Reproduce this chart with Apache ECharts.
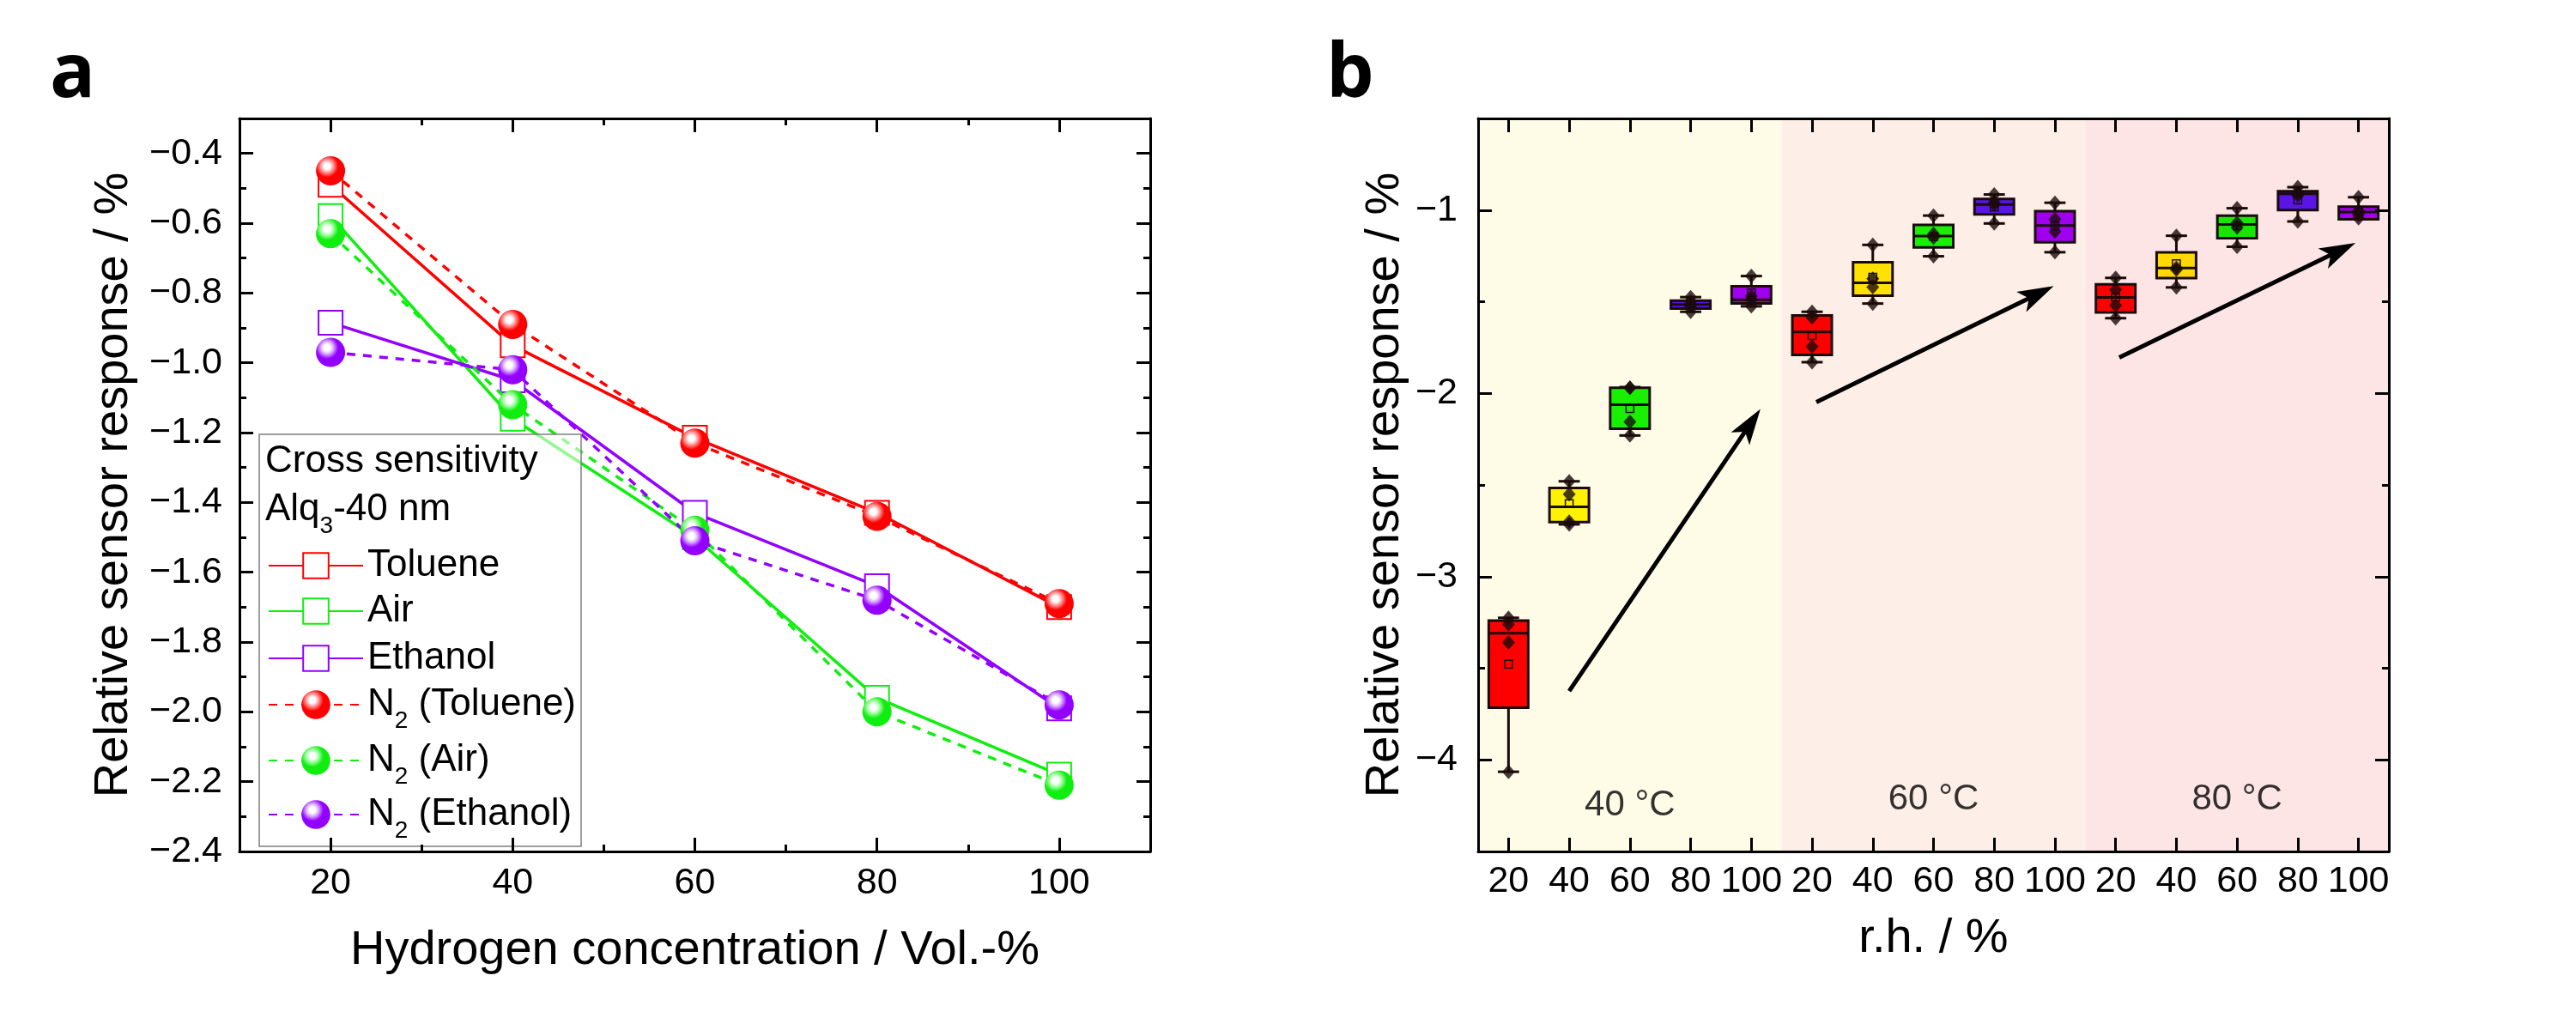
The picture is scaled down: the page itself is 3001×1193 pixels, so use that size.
<!DOCTYPE html>
<html><head><meta charset="utf-8">
<script src="https://cdn.jsdelivr.net/npm/echarts@6/dist/echarts.min.js"></script>
<style>html,body{margin:0;padding:0;background:#fff}#c{width:3001px;height:1193px}</style>
</head><body><div id="c"></div>
<script>
// ---------- Panel a data ----------
const concentration = [20, 40, 60, 80, 100];
const toluene   = [-0.49, -0.95, -1.215, -1.43, -1.70];
const air       = [-0.58, -1.16, -1.50, -1.96, -2.18];
const ethanol   = [-0.885, -1.05, -1.43, -1.64, -1.99];
const n2Toluene = [-0.45, -0.89, -1.23, -1.44, -1.69];
const n2Air     = [-0.63, -1.12, -1.48, -2.00, -2.21];
const n2Ethanol = [-0.97, -1.02, -1.51, -1.68, -1.98];
const xTicksA = [20, 40, 60, 80, 100];
const xMinorA = [30, 50, 70, 90];
const yTicksA = [-2.4, -2.2, -2.0, -1.8, -1.6, -1.4, -1.2, -1.0, -0.8, -0.6, -0.4];
const yMinorA = [-2.3, -2.1, -1.9, -1.7, -1.5, -1.3, -1.1, -0.9, -0.7, -0.5];
const legendNames = ['Toluene', 'Air', 'Ethanol', 'N2 (Toluene)', 'N2 (Air)', 'N2 (Ethanol)'];

// ---------- Panel b data ----------
const rhLabels = ['20','40','60','80','100','20','40','60','80','100','20','40','60','80','100'];
const xTicksB = [0,1,2,3,4,5,6,7,8,9,10,11,12,13,14];
const yTicksB = [-4, -3, -2, -1];
const yMinorB = [-3.5, -2.5, -1.5];
// [min, Q1, median, Q3, max, mean]
const boxStats = [
  [-4.065, -3.715, -3.309, -3.24, -3.225, -3.478],
  [-2.715, -2.702, -2.619, -2.516, -2.48, -2.602],
  [-2.23, -2.193, -2.062, -1.969, -1.966, -2.083],
  [-1.555, -1.537, -1.515, -1.494, -1.475, -1.512],
  [-1.525, -1.509, -1.49, -1.416, -1.36, -1.452],
  [-1.83, -1.79, -1.665, -1.575, -1.555, -1.685],
  [-1.51, -1.467, -1.397, -1.285, -1.19, -1.366],
  [-1.252, -1.204, -1.142, -1.081, -1.03, -1.145],
  [-1.073, -1.023, -0.969, -0.939, -0.915, -0.984],
  [-1.23, -1.176, -1.084, -1.006, -0.96, -1.085],
  [-1.59, -1.558, -1.477, -1.405, -1.37, -1.475],
  [-1.422, -1.371, -1.316, -1.231, -1.14, -1.293],
  [-1.2, -1.153, -1.079, -1.03, -0.99, -1.085],
  [-1.062, -1.0, -0.911, -0.897, -0.875, -0.945],
  [-1.05, -1.05, -1.011, -0.981, -0.93, -1.008]
];
const boxPoints = [
  [-3.225, -3.26, -3.36, -4.065],
  [-2.48, -2.55, -2.70, -2.715],
  [-1.97, -1.97, -2.156, -2.23],
  [-1.475, -1.50, -1.525, -1.555],
  [-1.36, -1.47, -1.49, -1.525],
  [-1.555, -1.585, -1.745, -1.83],
  [-1.19, -1.375, -1.42, -1.51],
  [-1.03, -1.13, -1.15, -1.252],
  [-0.915, -0.955, -0.97, -1.073],
  [-0.96, -1.05, -1.117, -1.23],
  [-1.37, -1.435, -1.52, -1.59],
  [-1.14, -1.315, -1.325, -1.422],
  [-0.99, -1.07, -1.095, -1.2],
  [-0.875, -0.905, -0.92, -1.062],
  [-0.93, -1.005, -1.025, -1.045]
];
const boxColors = ['#ff0000','#fff200','#19ef00','#5a14e6','#a000ee',
                   '#ff0000','#ffe100','#19ef00','#5a14e6','#a000ee',
                   '#ff0000','#ffd800','#19e600','#5a14e6','#a000ee'];
const tempBands = [[-0.5, 4.5, '#fefbe7'], [4.5, 9.5, '#fdefe7'], [9.5, 14.5, '#fde5e5']];
const tempLabels = [[2, -4.25, '40 °C'], [7, -4.217, '60 °C'], [12, -4.217, '80 °C']];
const arrows = [[1.0, -3.625, 4.15, -2.085], [5.07, -2.048, 8.98, -1.415], [10.06, -1.804, 13.95, -1.179]];

// ---------- helpers ----------
const FONT = "'Liberation Sans', Arial, sans-serif";
const minus = s => String(s).replace('-', '\u2212');

function mkAxis(o) {
  const ax = {
    type: 'value', gridIndex: o.grid, position: o.pos, min: o.min, max: o.max, z: 10,
    splitLine: {show: false},
    axisPointer: {show: false},
    axisLine: {show: !!o.line, onZero: false, lineStyle: {color: '#000', width: 3}},
    axisTick: {show: true, inside: true, length: o.len, lineStyle: {color: '#000', width: 3}, customValues: o.ticks},
    axisLabel: o.labels ? {show: true, customValues: o.ticks, formatter: o.fmt, fontSize: 43, fontFamily: FONT, color: '#000', margin: o.margin} : {show: false}
  };
  if (o.name) {
    ax.name = o.name; ax.nameLocation = 'middle'; ax.nameGap = o.nameGap;
    ax.nameTextStyle = {fontSize: 56, fontFamily: FONT, color: '#000'};
  }
  return ax;
}

function ballFill(c, light) {
  return {type: 'radial', x: 0.38, y: 0.34, r: 0.66, colorStops: [
    {offset: 0, color: '#ffffff'}, {offset: 0.16, color: '#ffffff'}, {offset: 0.32, color: light},
    {offset: 0.58, color: c}, {offset: 1, color: c}]};
}

function lineSeries(name, vals, color, light, ball) {
  return {
    name, type: 'line', xAxisIndex: 0, yAxisIndex: 0, silent: true,
    data: concentration.map((c, i) => [c, vals[i]]),
    symbol: ball ? 'circle' : 'emptyRect', symbolSize: ball ? 34 : 28,
    lineStyle: {color, width: 3.5, type: ball ? [10, 9] : 'solid'},
    itemStyle: ball ? {color: ballFill(color, light)} : {color, borderColor: color, borderWidth: 2.5},
    z: ball ? 3 : 2
  };
}

const richText = {
  m: {fontSize: 44, fontFamily: FONT, lineHeight: 44, color: '#000'},
  s: {fontSize: 28, fontFamily: FONT, lineHeight: 66, verticalAlign: 'bottom', color: '#000'}
};
// legend item centres (px)
const legendCentres = [654, 707, 762, 818, 883, 946];
function mkLegend(i) {
  const ball = i >= 3;
  const lg = {
    data: [legendNames[i]], orient: 'vertical', left: 307,
    top: legendCentres[i] - (ball ? 24 : 22),
    itemWidth: 110, itemHeight: ball ? 42 : 37, selectedMode: false, z: 6,
    textStyle: {fontSize: 44, fontFamily: FONT, color: '#000'}
  };
  if (ball) {
    lg.formatter = n => '{m|N}{s|2}{m|' + n.slice(2) + '}';
    lg.textStyle.rich = richText;
  }
  return lg;
}

const RED = '#ff0000', GRN = '#10ee10', PUR = '#9400ff';

const pointData = [];
boxPoints.forEach((pts, i) => pts.forEach(v => pointData.push([i, v])));

const option = {
  animation: false,
  backgroundColor: '#ffffff',
  grid: [
    {left: 279, top: 138, width: 1061, height: 854, show: false},
    {left: 1722, top: 138, width: 1061, height: 854, show: false}
  ],
  xAxis: [
    mkAxis({grid: 0, pos: 'bottom', min: 10, max: 110, line: true, len: 16, ticks: xTicksA, labels: true, fmt: v => v, margin: 16,
            name: 'Hydrogen concentration / Vol.-%', nameGap: 88}),
    mkAxis({grid: 0, pos: 'bottom', min: 10, max: 110, len: 8, ticks: xMinorA}),
    mkAxis({grid: 0, pos: 'top', min: 10, max: 110, line: true, len: 16, ticks: xTicksA}),
    mkAxis({grid: 0, pos: 'top', min: 10, max: 110, len: 8, ticks: xMinorA}),
    mkAxis({grid: 1, pos: 'bottom', min: -0.5, max: 14.5, line: true, len: 16, ticks: xTicksB, labels: true,
            fmt: v => rhLabels[Math.round(v)], margin: 14, name: 'r.h. / %', nameGap: 74}),
    mkAxis({grid: 1, pos: 'top', min: -0.5, max: 14.5, line: true, len: 16, ticks: xTicksB})
  ],
  yAxis: [
    mkAxis({grid: 0, pos: 'left', min: -2.4, max: -0.3, line: true, len: 16, ticks: yTicksA, labels: true,
            fmt: v => minus(v.toFixed(1)), margin: 20, name: 'Relative sensor response / %', nameGap: 118}),
    mkAxis({grid: 0, pos: 'left', min: -2.4, max: -0.3, len: 8, ticks: yMinorA}),
    mkAxis({grid: 0, pos: 'right', min: -2.4, max: -0.3, line: true, len: 16, ticks: yTicksA}),
    mkAxis({grid: 0, pos: 'right', min: -2.4, max: -0.3, len: 8, ticks: yMinorA}),
    mkAxis({grid: 1, pos: 'left', min: -4.5, max: -0.5, line: true, len: 16, ticks: yTicksB, labels: true,
            fmt: v => minus(v), margin: 24, name: 'Relative sensor response / %', nameGap: 80}),
    mkAxis({grid: 1, pos: 'left', min: -4.5, max: -0.5, len: 8, ticks: yMinorB}),
    mkAxis({grid: 1, pos: 'right', min: -4.5, max: -0.5, line: true, len: 16, ticks: yTicksB}),
    mkAxis({grid: 1, pos: 'right', min: -4.5, max: -0.5, len: 8, ticks: yMinorB})
  ],
  legend: [0, 1, 2, 3, 4, 5].map(mkLegend),
  graphic: [
    {type: 'rect', z: 4, silent: true, shape: {x: 302, y: 506, width: 375, height: 480},
     style: {fill: 'rgba(255,255,255,0.55)', stroke: '#7f7f7f', lineWidth: 1.5}},
    {type: 'text', z: 7, x: 309, y: 538, silent: true,
     style: {text: 'Cross sensitivity', font: '44px ' + FONT, fill: '#000', align: 'left', verticalAlign: 'middle'}},
    {type: 'text', z: 7, x: 309, y: 594, silent: true,
     style: {text: '{m|Alq}{s|3}{m|-40 nm}', align: 'left', verticalAlign: 'middle', fill: '#000', rich: richText}},
    {type: 'text', z: 7, x: 58, y: 88, silent: true,
     style: {text: 'a', font: 'bold 88px "Open Sans", ' + FONT, fill: '#000', align: 'left', verticalAlign: 'middle'}},
    {type: 'text', z: 7, x: 1545, y: 88, silent: true,
     style: {text: 'b', font: 'bold 88px "Open Sans", ' + FONT, fill: '#000', align: 'left', verticalAlign: 'middle'}}
  ],
  series: [
    lineSeries('Toluene', toluene, RED, '#ffa0a0', false),
    lineSeries('Air', air, GRN, '#a8ffa8', false),
    lineSeries('Ethanol', ethanol, PUR, '#dcb0ff', false),
    lineSeries('N2 (Toluene)', n2Toluene, RED, '#ffa0a0', true),
    lineSeries('N2 (Air)', n2Air, GRN, '#a8ffa8', true),
    lineSeries('N2 (Ethanol)', n2Ethanol, PUR, '#dcb0ff', true),
    {
      type: 'line', xAxisIndex: 4, yAxisIndex: 4, data: [], silent: true, z: 0,
      markArea: {silent: true, label: {show: false},
        data: tempBands.map(b => [{xAxis: b[0], itemStyle: {color: b[2]}}, {xAxis: b[1]}])}
    },
    {
      type: 'custom', xAxisIndex: 4, yAxisIndex: 4, silent: true, z: 2,
      data: boxStats.map((s, i) => [i].concat(s)),
      encode: {x: 0, y: [1, 2, 3, 4, 5]},
      renderItem: (params, api) => {
        const x = api.value(0);
        const c = v => api.coord([x, v]);
        const pMin = c(api.value(1)), pQ1 = c(api.value(2)), pMd = c(api.value(3)),
              pQ3 = c(api.value(4)), pMax = c(api.value(5)), pMean = c(api.value(6));
        const bw = api.size([0.65, 0])[0], cw = api.size([0.35, 0])[0];
        const cx = pMin[0];
        const K = '#1a0a0a';
        const ln = (x1, y1, x2, y2, w) => ({type: 'line', shape: {x1, y1, x2, y2}, style: {stroke: K, lineWidth: w || 3}});
        return {type: 'group', children: [
          ln(cx, pMax[1], cx, pQ3[1]), ln(cx - cw / 2, pMax[1], cx + cw / 2, pMax[1]),
          ln(cx, pQ1[1], cx, pMin[1]), ln(cx - cw / 2, pMin[1], cx + cw / 2, pMin[1]),
          {type: 'rect', shape: {x: cx - bw / 2, y: pQ3[1], width: bw, height: pQ1[1] - pQ3[1]},
           style: {fill: boxColors[params.dataIndex], stroke: K, lineWidth: 3}},
          ln(cx - bw / 2, pMd[1], cx + bw / 2, pMd[1]),
          {type: 'rect', shape: {x: cx - 4.5, y: pMean[1] - 4.5, width: 9, height: 9},
           style: {fill: 'none', stroke: K, lineWidth: 1.5}}
        ]};
      }
    },
    {
      type: 'scatter', xAxisIndex: 4, yAxisIndex: 4, silent: true, z: 3,
      data: pointData, symbol: 'diamond', symbolSize: [15, 17], itemStyle: {color: '#1a0a0a'}
    },
    {
      type: 'custom', xAxisIndex: 4, yAxisIndex: 4, silent: true, z: 3,
      data: arrows, encode: {x: [0, 2], y: [1, 3]},
      renderItem: (params, api) => {
        const p1 = api.coord([api.value(0), api.value(1)]);
        const p2 = api.coord([api.value(2), api.value(3)]);
        const dx = p2[0] - p1[0], dy = p2[1] - p1[1], L = Math.hypot(dx, dy);
        const ux = dx / L, uy = dy / L, nx = -uy, ny = ux;
        const hl = 42, hw = 13, notch = 32;
        const bx = p2[0] - ux * hl, by = p2[1] - uy * hl;
        const mx = p2[0] - ux * notch, my = p2[1] - uy * notch;
        return {type: 'group', children: [
          {type: 'line', shape: {x1: p1[0], y1: p1[1], x2: mx, y2: my}, style: {stroke: '#000', lineWidth: 5}},
          {type: 'polygon', shape: {points: [[p2[0], p2[1]], [bx + nx * hw, by + ny * hw], [mx, my], [bx - nx * hw, by - ny * hw]]},
           style: {fill: '#000'}}
        ]};
      }
    },
    {
      type: 'scatter', xAxisIndex: 4, yAxisIndex: 4, silent: true, z: 3,
      data: tempLabels, symbolSize: 1, itemStyle: {color: 'rgba(0,0,0,0)'},
      label: {show: true, position: 'inside', formatter: p => p.value[2], fontSize: 42, fontFamily: FONT, color: '#000'}
    }
  ]
};

const chart = echarts.init(document.getElementById('c'), null, {renderer: 'canvas', width: 3001, height: 1193});
chart.setOption(option);
</script>
</body></html>
